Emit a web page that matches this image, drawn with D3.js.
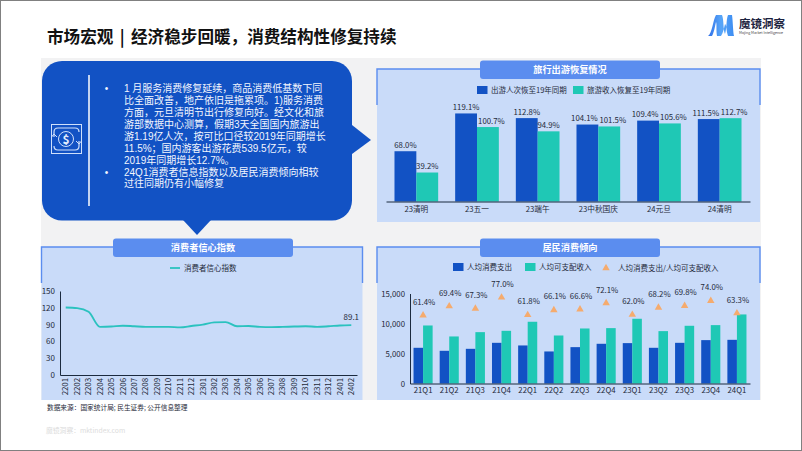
<!DOCTYPE html>
<html>
<head>
<meta charset="UTF-8" />
<script src="https://cdn.jsdelivr.net/npm/d3@7/dist/d3.min.js"></script>
<style>
  html, body { margin: 0; padding: 0; background: #fff; }
  svg { display: block; }
  text { font-family: "Noto Sans CJK SC", "Noto Sans", sans-serif; fill: #1f2a3a; }
</style>
</head>
<body>
<div id="chart"></div>
<script>
// travel recovery
const travelCats = ["23清明", "23五一", "23端午", "23中秋国庆", "24元旦", "24清明"];
const travelVisits = [68.0, 119.1, 112.8, 104.1, 109.4, 111.5];
const travelIncome = [39.2, 100.7, 94.9, 101.5, 105.6, 112.7];

// consumer confidence
const confMonths = ["2201", "2202", "2203", "2204", "2205", "2206", "2207", "2208", "2209", "2210", "2211", "2212",
  "2301", "2302", "2303", "2304", "2305", "2306", "2307", "2308", "2309", "2310", "2311", "2312", "2401", "2402"];
const confValues = [120.5, 119.5, 113, 86, 86.5, 88, 87, 86, 86, 86, 85, 87.5,
  90, 94, 94.5, 87, 87.5, 86, 85.5, 86, 86.5, 87, 86, 87, 88.5, 89.1];
const confTicks = [0, 30, 60, 90, 120, 150];

// household consumption
const quarters = ["21Q1", "21Q2", "21Q3", "21Q4", "22Q1", "22Q2", "22Q3", "22Q4", "23Q1", "23Q2", "23Q3", "23Q4", "24Q1"];
const spending = [5950, 5450, 5780, 6780, 6340, 5340, 6060, 6620, 6730, 5950, 6780, 7230, 7280];
const income = [9670, 7840, 8560, 8780, 10290, 8000, 9170, 9230, 10790, 8730, 9620, 9730, 11510];
const ratio = [61.4, 69.4, 67.3, 77.0, 61.8, 66.1, 66.6, 72.1, 62.0, 68.2, 69.8, 74.0, 63.3];
const moneyTicks = [0, 5000, 10000, 15000];

const bulletLines = [
  "1 月服务消费修复延续，商品消费低基数下同",
  "比全面改善，地产依旧是拖累项。1)服务消费",
  "方面，元旦清明节出行修复向好。经文化和旅",
  "游部数据中心测算，假期3天全国国内旅游出",
  "游1.19亿人次，按可比口径较2019年同期增长",
  "11.5%；国内游客出游花费539.5亿元，较",
  "2019年同期增长12.7%。",
  "24Q1消费者信息指数以及居民消费倾向相较",
  "过往同期仍有小幅修复"
];
const bulletStarts = [0, 7];

const BLUE = "#1252c4", TEAL = "#1fc8b5", LINE = "#2bc2bf", ORANGE = "#f5ab6e";
const PANEL = "#c9dbf9", HEADER = "#5b8def", AXIS = "#1b2a3f";
const BUBBLE_FONT = '"Liberation Sans", "Noto Sans CJK SC", sans-serif';

const svg = d3.select("#chart").append("svg")
  .attr("width", 802)
  .attr("height", 451)
  .attr("viewBox", [0, 0, 802, 451]);

svg.append("rect").attr("x", 0.5).attr("y", 0.5).attr("width", 801).attr("height", 450)
  .attr("fill", "#fff").attr("stroke", "#808080");

svg.append("text").attr("x", 47).attr("y", 43)
  .attr("font-size", 16.6).attr("font-weight", 700).attr("word-spacing", 2.6).style("fill", "#111")
  .text("市场宏观 | 经济稳步回暖，消费结构性修复持续");

// logo
const defs = svg.append("defs");
const grad = defs.append("linearGradient").attr("id", "logoGrad").attr("x1", 0).attr("x2", 1).attr("y1", 0).attr("y2", 0);
grad.append("stop").attr("offset", "0%").attr("stop-color", "#2f6fe8");
grad.append("stop").attr("offset", "50%").attr("stop-color", "#58a6f8");
grad.append("stop").attr("offset", "100%").attr("stop-color", "#3d8df2");
svg.append("path")
  .attr("d", "M708 36 C712 34 713 20 716 15 L722 15 C724 20 723 30 725 34 C727 28 726 20 728 15 L732 15 C733 22 733 32 734 36 L728 36 C726 30 727 26 725 24 C724 28 723 33 721 36 L717 36 C716 30 717 24 716 22 C715 26 714 33 712 36 Z")
  .attr("fill", "url(#logoGrad)");
svg.append("text").attr("x", 739).attr("y", 27.5).attr("font-size", 11.5).attr("font-weight", 700).style("fill", "#1c2340").text("魔镜洞察");
svg.append("text").attr("x", 739).attr("y", 33.5).attr("font-size", 3.6).style("fill", "#444").text("Mojing Market Intelligence");

// grey backdrop
svg.append("rect").attr("x", 41).attr("y", 58).attr("width", 720).attr("height", 342).attr("fill", "#f2f2f3");

// speech bubble
const bubble = svg.append("g").attr("fill", BLUE);
bubble.append("rect").attr("x", 42).attr("y", 61).attr("width", 310).attr("height", 159.5).attr("rx", 20);
bubble.append("path").attr("d", "M352 125 L371 140 L352 154 Z");
bubble.append("path").attr("d", "M183 220 L197 235 L211 220 Z");
bubble.append("line").attr("x1", 89).attr("x2", 89).attr("y1", 75).attr("y2", 206)
  .attr("stroke", "#fff").attr("stroke-width", 1.5);

const icon = svg.append("g").attr("fill", "none").attr("stroke", "#cfe0fb");
icon.append("rect").attr("x", 51.5).attr("y", 124.5).attr("width", 30).attr("height", 29).attr("stroke-width", 1);
icon.append("path").attr("d", "M54 137 V132 Q54 128 58 128 H75 Q79 128 79 132 M79 141 V146 Q79 150 75 150 H58 Q54 150 54 146").attr("stroke-width", 1.2);
icon.append("path").attr("d", "M51.5 137 L54 134 L57 137 M76 141 L79 144 L81.5 141").attr("stroke-width", 1);
icon.append("circle").attr("cx", 66).attr("cy", 139).attr("r", 7.5).attr("stroke-width", 1);
svg.append("text").attr("x", 66).attr("y", 143.5).attr("text-anchor", "middle")
  .attr("font-size", 12).attr("font-weight", 700).style("fill", "#e4eefd").text("$");

svg.append("g").selectAll("text").data(bulletLines).join("text")
  .attr("x", 124).attr("y", (d, i) => 92 + i * 11.93)
  .attr("font-size", 10).style("font-family", BUBBLE_FONT).style("fill", "#f2f6fe")
  .text(d => d);
svg.append("g").selectAll("text").data(bulletStarts).join("text")
  .attr("x", 106.5).attr("y", d => 92 + d * 11.93).attr("text-anchor", "middle")
  .attr("font-size", 10).style("font-family", BUBBLE_FONT).style("fill", "#f2f6fe").text("•");

function panel(x, y, w, h, hx, title) {
  svg.append("rect").attr("x", x).attr("y", y).attr("width", w).attr("height", h).attr("fill", PANEL);
  svg.append("path").attr("d", `M${x} ${y + 36} V${y} H${x + w} V${y + 36}`)
    .attr("fill", "none").attr("stroke", HEADER).attr("stroke-width", 1.4);
  svg.append("rect").attr("x", hx).attr("y", y - 8.5).attr("width", 180).attr("height", 18.5).attr("rx", 3).attr("fill", HEADER);
  svg.append("text").attr("x", hx + 90).attr("y", y + 4).attr("text-anchor", "middle")
    .attr("font-size", 9.2).attr("font-weight", 700).style("fill", "#fff").text(title);
}
panel(377, 69, 383, 153, 480, "旅行出游恢复情况");
panel(41.5, 247, 321, 153, 113, "消费者信心指数");
panel(377, 247, 383, 153, 480, "居民消费倾向");

function legendSwatch(x, y, color, label) {
  svg.append("rect").attr("x", x).attr("y", y).attr("width", 10.5).attr("height", 8).attr("fill", color);
  svg.append("text").attr("x", x + 14).attr("y", y + 7).attr("font-size", 7.5).text(label);
}

function styleAxis(g, size) {
  g.selectAll("text").attr("font-size", size).style("font-family", '"Noto Sans CJK SC"');
  g.select(".domain").attr("stroke", AXIS).attr("stroke-width", 1);
  g.selectAll(".tick line").remove();
}

// ---- travel recovery bars
legendSwatch(477, 86, BLUE, "出游人次恢至19年同期");
legendSwatch(573, 86, TEAL, "旅游收入恢复至19年同期");

const x1 = d3.scaleBand().domain(travelCats).range([386, 750]).paddingInner(0.28).paddingOuter(0.14);
const x1s = d3.scaleBand().domain([0, 1]).range([0, x1.bandwidth()]);
const y1 = d3.scaleLinear().domain([0, 140]).range([201.5, 98]);

[travelVisits, travelIncome].forEach((vals, s) => {
  svg.append("g").selectAll("rect").data(vals).join("rect")
    .attr("x", (d, i) => x1(travelCats[i]) + x1s(s))
    .attr("y", d => y1(d))
    .attr("width", x1s.bandwidth())
    .attr("height", d => y1(0) - y1(d))
    .attr("fill", s ? TEAL : BLUE);
  // wide labels are pushed off the neighbouring bar, near-equal pairs sit apart
  svg.append("g").selectAll("text").data(vals).join("text")
    .attr("x", (d, i) => {
      const close = Math.abs(travelVisits[i] - travelIncome[i]) < 15;
      const nudge = s ? (d >= 100 ? 3.5 : 0) : (close ? -3 : 0);
      return x1(travelCats[i]) + x1s(s) + x1s.bandwidth() / 2 + nudge;
    })
    .attr("y", d => y1(d) - 3.5)
    .attr("text-anchor", "middle").attr("font-size", 7.8)
    .text(d => d.toFixed(1) + "%");
});
svg.append("g").attr("transform", "translate(0,201.5)")
  .call(d3.axisBottom(x1).tickSize(0).tickPadding(5).tickSizeOuter(0))
  .call(g => styleAxis(g, 7.7));

// ---- consumer confidence line
svg.append("line").attr("x1", 170).attr("x2", 180).attr("y1", 268).attr("y2", 268).attr("stroke", LINE).attr("stroke-width", 1.8);
svg.append("text").attr("x", 184).attr("y", 271).attr("font-size", 7.5).text("消费者信心指数");

const x2 = d3.scaleBand().domain(confMonths).range([60, 357]);
const y2 = d3.scaleLinear().domain([0, 150]).range([375, 291]);
svg.append("path").datum(confValues)
  .attr("fill", "none").attr("stroke", LINE).attr("stroke-width", 1.9)
  .attr("d", d3.line().x((d, i) => x2(confMonths[i]) + x2.bandwidth() / 2).y(d => y2(d)).curve(d3.curveMonotoneX));
svg.append("text")
  .attr("x", x2("2402") + x2.bandwidth() / 2).attr("y", y2(89.1) - 5.5)
  .attr("text-anchor", "middle").attr("font-size", 8).text(confValues[confValues.length - 1]);
svg.append("g").attr("transform", "translate(60,0)")
  .call(d3.axisLeft(y2).tickValues(confTicks).tickSize(0).tickPadding(5))
  .call(g => styleAxis(g, 8));
svg.append("g").attr("transform", "translate(0,375)")
  .call(d3.axisBottom(x2).tickSize(0).tickSizeOuter(0))
  .call(g => styleAxis(g, 7.8))
  .call(g => g.selectAll("text")
    .attr("transform", "rotate(-90)")
    .attr("text-anchor", "end")
    .attr("x", -3).attr("y", 0).attr("dy", "0.35em"));

// ---- household consumption
legendSwatch(453, 263, BLUE, "人均消费支出");
legendSwatch(525, 263, TEAL, "人均可支配收入");
const triangle = d3.symbol().type(d3.symbolTriangle).size(24);
svg.append("path").attr("transform", "translate(606,268)").attr("d", triangle()).attr("fill", ORANGE);
svg.append("text").attr("x", 618).attr("y", 270.5).attr("font-size", 7.5).text("人均消费支出/人均可支配收入");

const x3 = d3.scaleBand().domain(quarters).range([410, 750]).paddingInner(0.27).paddingOuter(0.135);
const x3s = d3.scaleBand().domain([0, 1]).range([0, x3.bandwidth()]);
const y3 = d3.scaleLinear().domain([0, 15000]).range([383.5, 293.5]);
const yRatio = d3.scaleLinear().domain([0, 80]).range([386, 294]);

[spending, income].forEach((vals, s) => {
  svg.append("g").selectAll("rect").data(vals).join("rect")
    .attr("x", (d, i) => x3(quarters[i]) + x3s(s))
    .attr("y", d => y3(d))
    .attr("width", x3s.bandwidth())
    .attr("height", d => y3(0) - y3(d))
    .attr("fill", s ? TEAL : BLUE);
});
svg.append("g").selectAll("path").data(ratio).join("path")
  .attr("transform", (d, i) => `translate(${x3(quarters[i]) + x3.bandwidth() / 2},${yRatio(d)})`)
  .attr("d", triangle()).attr("fill", ORANGE);
svg.append("g").selectAll("text").data(ratio).join("text")
  .attr("x", (d, i) => x3(quarters[i]) + x3.bandwidth() / 2 + 1)
  .attr("y", d => yRatio(d) - 10.5)
  .attr("text-anchor", "middle").attr("font-size", 7.8)
  .text(d => d.toFixed(1) + "%");
svg.append("g").attr("transform", "translate(410,0)")
  .call(d3.axisLeft(y3).tickValues(moneyTicks).tickFormat(d3.format(",")).tickSize(0).tickPadding(5))
  .call(g => styleAxis(g, 7.8));
svg.append("g").attr("transform", "translate(0,383.5)")
  .call(d3.axisBottom(x3).tickSize(0).tickPadding(4).tickSizeOuter(0))
  .call(g => styleAxis(g, 7.8));

// footer
svg.append("text").attr("x", 47).attr("y", 410).attr("font-size", 6.7).text("数据来源：国家统计局; 民生证券; 公开信息整理");
svg.append("text").attr("x", 46).attr("y", 433).attr("font-size", 6.8).style("fill", "#dcdcdc").text("魔镜洞察：mktindex.com");
</script>
</body>
</html>
